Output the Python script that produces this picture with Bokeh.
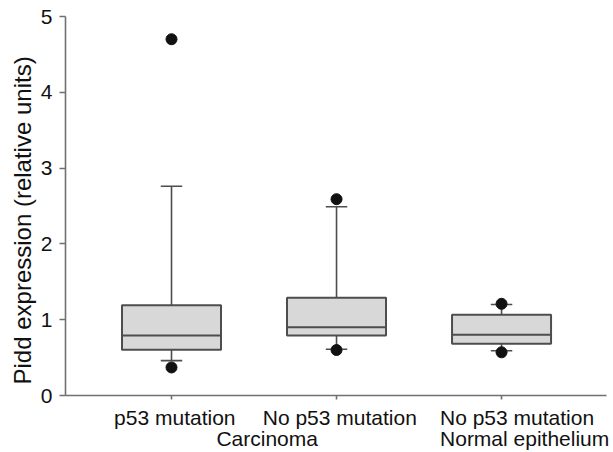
from bokeh.plotting import figure
from bokeh.models import Range1d, FixedTicker, LinearAxis, Title
from bokeh.embed import file_html
from bokeh.resources import INLINE

# ---- data ----
groups = [1, 2, 3]
q1 = [0.605, 0.79, 0.684]
median = [0.79, 0.90, 0.80]
q3 = [1.19, 1.29, 1.066]
lower_whisker = [0.46, 0.61, 0.59]
upper_whisker = [2.76, 2.49, 1.20]
outlier_x = [1, 1, 2, 2, 3, 3]
outlier_y = [0.37, 4.70, 0.60, 2.59, 0.57, 1.21]
y_ticks = [0, 1, 2, 3, 4, 5]
y_title = "Pidd expression (relative units)"

# category label lines (text and horizontal anchor, in x units)
line1_text = ["p53 mutation", "No p53 mutation", "No p53 mutation"]
line1_pos = [1.02, 2.02, 3.094]
line2_text = ["Carcinoma", "Normal epithelium"]
line2_pos = [1.58, 3.14]

FONT = "Liberation Sans"
LINE = "#4d4d4d"
AXC = "#707070"
TXT = "#111111"
BOX_W = 0.6
CAP_W = 0.13

p = figure(width=613, height=452, output_backend="svg", toolbar_location=None,
           x_range=Range1d(0.3576, 3.636), y_range=Range1d(0, 5),
           min_border_left=65, min_border_right=7, min_border_top=16, min_border_bottom=56)
p.grid.visible = False
p.outline_line_color = None
p.background_fill_color = "white"
p.border_fill_color = "white"

# boxes
p.vbar(x=groups, width=BOX_W, bottom=q1, top=q3, fill_color="#d8d8d8",
       line_color=LINE, line_width=2)
# medians
p.segment(x0=[g - BOX_W / 2 for g in groups], x1=[g + BOX_W / 2 for g in groups],
          y0=median, y1=median, line_color=LINE, line_width=2)
# whiskers
p.segment(x0=groups, x1=groups, y0=q3, y1=upper_whisker, line_color=LINE, line_width=1.6)
p.segment(x0=groups, x1=groups, y0=q1, y1=lower_whisker, line_color=LINE, line_width=1.6)
p.segment(x0=[g - CAP_W / 2 for g in groups], x1=[g + CAP_W / 2 for g in groups],
          y0=upper_whisker, y1=upper_whisker, line_color=LINE, line_width=1.6)
p.segment(x0=[g - CAP_W / 2 for g in groups], x1=[g + CAP_W / 2 for g in groups],
          y0=lower_whisker, y1=lower_whisker, line_color=LINE, line_width=1.6)
# outliers
p.scatter(x=outlier_x, y=outlier_y, size=11, color="#111111")

# y axis
ya = p.yaxis[0]
ya.ticker = FixedTicker(ticks=y_ticks)
ya.axis_line_color = AXC
ya.axis_line_width = 1.6
ya.major_tick_line_color = AXC
ya.major_tick_line_width = 1.6
ya.minor_tick_line_color = None
ya.major_tick_in = 0
ya.major_tick_out = 6
ya.major_label_standoff = 7
ya.major_label_text_font = FONT
ya.major_label_text_font_size = "21px"
ya.major_label_text_color = TXT

# y axis title (side title so it can sit slightly lower, as in the original)
p.add_layout(Title(text=y_title, align="left", offset=11, standoff=4,
                   text_font=FONT, text_font_size="24px", text_font_style="normal",
                   text_color=TXT), "left")

# main x axis: line and tick marks only
xa = p.xaxis[0]
xa.ticker = FixedTicker(ticks=groups)
xa.axis_line_color = AXC
xa.axis_line_width = 1.6
xa.major_tick_line_color = AXC
xa.major_tick_line_width = 1.6
xa.minor_tick_line_color = None
xa.major_tick_in = 0
xa.major_tick_out = 4
xa.major_label_standoff = 0
xa.major_label_text_font_size = "0px"
xa.major_label_overrides = {g: "" for g in groups}

def label_axis(positions, texts, standoff):
    ax = LinearAxis(ticker=FixedTicker(ticks=positions),
                    major_label_overrides=dict(zip(positions, texts)))
    ax.axis_line_color = None
    ax.major_tick_line_color = None
    ax.minor_tick_line_color = None
    ax.major_tick_in = 0
    ax.major_tick_out = 0
    ax.major_label_standoff = standoff
    ax.major_label_text_font = FONT
    ax.major_label_text_font_size = "21px"
    ax.major_label_text_color = TXT
    p.add_layout(ax, "below")

label_axis(line1_pos, line1_text, 6)
label_axis(line2_pos, line2_text, -5)

open("out.html", "w").write(file_html(p, INLINE))
